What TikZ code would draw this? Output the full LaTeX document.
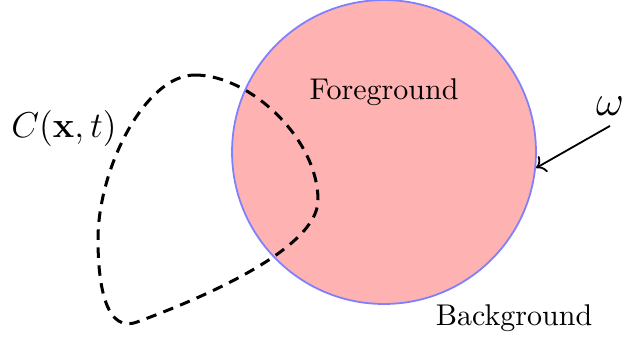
\documentclass[tikz,border=0pt]{standalone}
\usepackage{tikz}
\usetikzlibrary{positioning,arrows.meta}

\begin{document}
\begin{tikzpicture}[
  x=0.3333pt, y=0.3333pt,
  region/.style={circle, draw=blue!50, line width=0.6pt, fill=red!30, minimum size=101.3pt, inner sep=0pt},
  contour/.style={line width=1pt, dash pattern=on 3.5pt off 2.5pt},
]
\useasboundingbox (0,0) rectangle (624,339);
\node[region] (fg) at (384,187) {};
\node at (384,247) (fglabel) {Foreground};
\node at (514,21) (bglabel) {Background};
% evolving contour
\draw[contour] (195,264) .. controls (250,264) and (318,200) .. (318,139)
  .. controls (318,90) and (200,40) .. (137,17)
  .. controls (107,6) and (98,50) .. (98,100)
  .. controls (98,170) and (145,264) .. (195,264) -- cycle;
\node[font=\large] at (64,211) (curve) {$C(\mathbf{x},t)$};
\node[font=\Large] at (610,233) (omega) {$\omega$};
\draw[->, semithick] (omega.south) -- (fg.-6);
\end{tikzpicture}
\end{document}
